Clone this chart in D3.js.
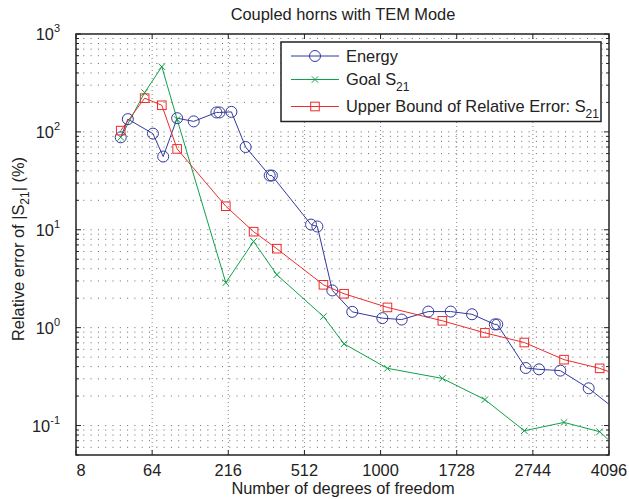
<!DOCTYPE html>
<html>
<head>
<meta charset="utf-8">
<script src="https://cdn.jsdelivr.net/npm/d3@7"></script>
<style>
  body { margin: 0; background: #fff; }
  text { font-family: "Liberation Sans", Arial, sans-serif; fill: #222; }
</style>
</head>
<body>
<div id="chart"></div>
<script>
// data
var dofA = [32, 38, 65, 79, 101, 132, 184, 192, 225, 269, 356, 365, 546, 580, 666, 793, 1014, 1176, 1425, 1661, 1907, 2197, 2230, 2636, 2840, 3190, 3700, 4410];
var energy = [88, 135, 96, 56, 138, 128, 158, 158, 160, 70, 35.8, 35.8, 11.3, 10.8, 2.4, 1.45, 1.25, 1.21, 1.46, 1.46, 1.37, 1.08, 1.08, 0.387, 0.375, 0.364, 0.24, 0.124];

var dofB = [32, 55, 77, 101, 209, 296, 385, 614, 739, 1055, 1570, 2068, 2614, 3254, 3910, 4410];
var goal = [88, 252, 463, 134, 2.88, 7.6, 3.47, 1.30, 0.683, 0.384, 0.303, 0.184, 0.0885, 0.1076, 0.0865, 0.051];
var bound = [103, 221, 187, 67, 17.4, 9.56, 6.41, 2.74, 2.22, 1.61, 1.175, 0.885, 0.705, 0.471, 0.384, 0.311];

var xTicks = [8, 64, 216, 512, 1000, 1728, 2744, 4096];
var yTicks = [-1, 0, 1, 2, 3];

var svgWidth = 629;
var svgHeight = 499;

var plotL = 76, plotR = 609, plotT = 34, plotB = 455;
var fs = "16.4px";

var svg = d3.select("#chart")
  .append("svg")
  .attr("width", svgWidth)
  .attr("height", svgHeight);

var x = d3.scalePow().exponent(1 / 3)
  .domain([8, 4096])
  .range([plotL, plotR]);

var y = d3.scaleLog()
  .domain([0.05, 1000])
  .range([plotB, plotT]);

// minor log values
var minor = [];
for (var e = -2; e <= 2; e++) {
  for (var m = 1; m <= 9; m++) {
    var v = m * Math.pow(10, e);
    if (v >= 0.05 && v <= 1000) minor.push(v);
  }
}
minor.push(1000);

// grid
svg.append("g").selectAll("line")
  .data(minor.filter(d => d > 0.05 && d < 1000))
  .enter().append("line")
  .attr("x1", plotL).attr("x2", plotR)
  .attr("y1", d => y(d)).attr("y2", d => y(d))
  .attr("stroke", "#666")
  .attr("stroke-width", 1)
  .attr("stroke-dasharray", "1,6.3");

svg.append("g").selectAll("line")
  .data(xTicks.slice(1, -1))
  .enter().append("line")
  .attr("x1", d => x(d)).attr("x2", d => x(d))
  .attr("y1", plotT).attr("y2", plotB)
  .attr("stroke", "#888")
  .attr("stroke-width", 1)
  .attr("stroke-dasharray", "1,3");

// ticks
var tk = svg.append("g").attr("stroke", "#222").attr("stroke-width", 1);
xTicks.forEach(function(d) {
  tk.append("line").attr("x1", x(d)).attr("x2", x(d)).attr("y1", plotB).attr("y2", plotB - 5);
  tk.append("line").attr("x1", x(d)).attr("x2", x(d)).attr("y1", plotT).attr("y2", plotT + 5);
});
minor.forEach(function(d) {
  var len = (Math.abs(Math.log10(d) - Math.round(Math.log10(d))) < 1e-9) ? 5 : 3;
  tk.append("line").attr("x1", plotL).attr("x2", plotL + len).attr("y1", y(d)).attr("y2", y(d));
  tk.append("line").attr("x1", plotR).attr("x2", plotR - len).attr("y1", y(d)).attr("y2", y(d));
});

// frame
svg.append("rect")
  .attr("x", plotL).attr("y", plotT)
  .attr("width", plotR - plotL).attr("height", plotB - plotT)
  .attr("fill", "none")
  .attr("stroke", "#222")
  .attr("stroke-width", 1.5);

// tick labels
svg.append("g").selectAll("text")
  .data(xTicks)
  .enter().append("text")
  .attr("x", d => x(d) + (d === 8 ? 5 : 0))
  .attr("y", 476)
  .attr("text-anchor", "middle")
  .style("font-size", fs)
  .text(d => d);

var yl = svg.append("g").selectAll("text")
  .data(yTicks)
  .enter().append("text")
  .attr("x", 60)
  .attr("y", d => y(Math.pow(10, d)) + 6)
  .attr("text-anchor", "end")
  .style("font-size", fs);
yl.append("tspan").text("10");
yl.append("tspan").attr("dy", -8).style("font-size", "11px").text(d => d);

// series
svg.append("clipPath").attr("id", "clip")
  .append("rect").attr("x", plotL).attr("y", plotT).attr("width", plotR - plotL).attr("height", plotB - plotT);

var plot = svg.append("g").attr("clip-path", "url(#clip)");

var blue = "#33399c", green = "#10a048", red = "#ee2b2b";

function series(xs, ys, color) {
  var pts = xs.map((d, i) => [x(d), y(ys[i])]);
  plot.append("path")
    .attr("d", d3.line()(pts))
    .attr("fill", "none")
    .attr("stroke", color)
    .attr("stroke-width", 1);
  return pts;
}

var pA = series(dofA, energy, blue);
var pG = series(dofB, goal, green);
var pR = series(dofB, bound, red);

plot.selectAll(".circ").data(pA).enter().append("circle")
  .attr("cx", d => d[0]).attr("cy", d => d[1]).attr("r", 5.5)
  .attr("fill", "none").attr("stroke", blue).attr("stroke-width", 1);

function cross(g, cx, cy, s, color) {
  g.append("path")
    .attr("d", `M${cx - s},${cy - s}L${cx + s},${cy + s}M${cx - s},${cy + s}L${cx + s},${cy - s}`)
    .attr("stroke", color).attr("stroke-width", 1).attr("fill", "none");
}
pG.forEach(d => cross(plot, d[0], d[1], 3.2, green));

plot.selectAll(".sq").data(pR).enter().append("rect")
  .attr("x", d => d[0] - 4.3).attr("y", d => d[1] - 4.3)
  .attr("width", 8.6).attr("height", 8.6)
  .attr("fill", "none").attr("stroke", red).attr("stroke-width", 1);

// legend
var lg = svg.append("g");
lg.append("rect")
  .attr("x", 281).attr("y", 42).attr("width", 320).attr("height", 79.5)
  .attr("fill", "#fff").attr("stroke", "#222").attr("stroke-width", 1.5);

var rows = [
  { c: blue, y: 56, m: "o", label: "Energy", sub: "" },
  { c: green, y: 79.5, m: "x", label: "Goal S", sub: "21" },
  { c: red, y: 106.5, m: "s", label: "Upper Bound of Relative Error: S", sub: "21" }
];
rows.forEach(function(r) {
  lg.append("line").attr("x1", 291).attr("x2", 339).attr("y1", r.y).attr("y2", r.y)
    .attr("stroke", r.c).attr("stroke-width", 1);
  if (r.m === "o") lg.append("circle").attr("cx", 315).attr("cy", r.y).attr("r", 5.5)
    .attr("fill", "none").attr("stroke", r.c);
  if (r.m === "x") cross(lg, 315, r.y, 3.2, r.c);
  if (r.m === "s") lg.append("rect").attr("x", 310.7).attr("y", r.y - 4.3).attr("width", 8.6).attr("height", 8.6)
    .attr("fill", "none").attr("stroke", r.c);
  var t = lg.append("text").attr("x", 346).attr("y", r.y + 5.5).style("font-size", fs);
  t.append("tspan").text(r.label);
  if (r.sub) t.append("tspan").attr("dy", 6).style("font-size", "12px").text(r.sub);
});

// titles
svg.append("text")
  .attr("x", 343).attr("y", 20)
  .attr("text-anchor", "middle")
  .style("font-size", fs)
  .text("Coupled horns with TEM Mode");

svg.append("text")
  .attr("x", 343).attr("y", 494)
  .attr("text-anchor", "middle")
  .style("font-size", fs)
  .text("Number of degrees of freedom");

var ylab = svg.append("text")
  .attr("transform", "translate(24, 249) rotate(-90)")
  .attr("text-anchor", "middle")
  .style("font-size", fs);
ylab.append("tspan").text("Relative error of |S");
ylab.append("tspan").attr("dy", 5).style("font-size", "12px").text("21");
ylab.append("tspan").attr("dy", -5).text("| (%)");
</script>
</body>
</html>
